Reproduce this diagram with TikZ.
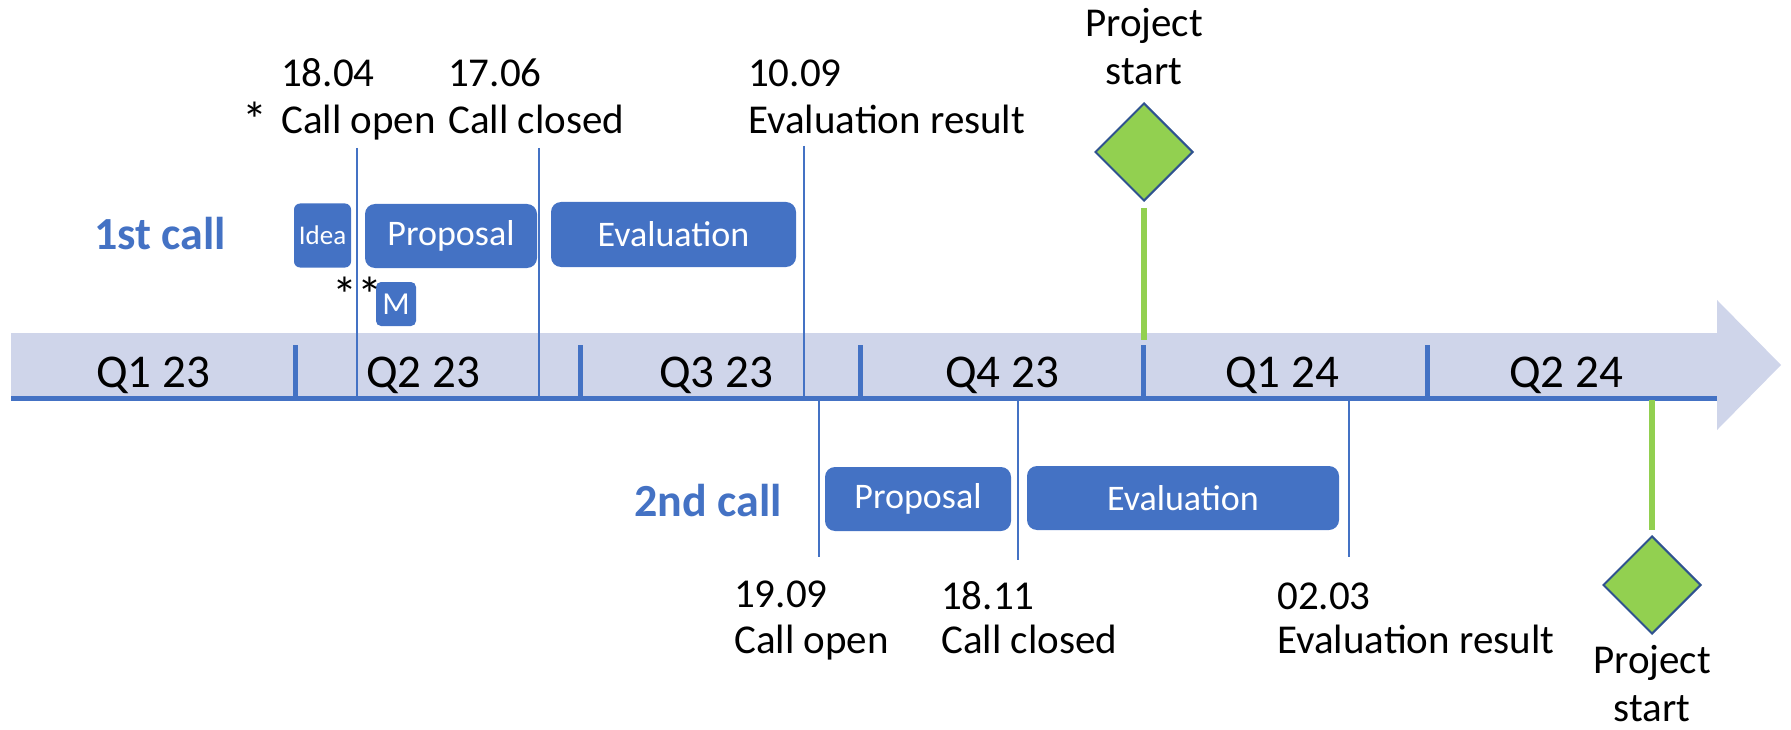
\documentclass[tikz,border=0pt]{standalone}
\usepackage{fontspec}
\setmainfont{Carlito}
\usetikzlibrary{shapes.geometric}
\definecolor{ob}{HTML}{4472C4}
\definecolor{bandc}{HTML}{CFD5EA}
\definecolor{gr}{HTML}{92D050}
\definecolor{dk}{HTML}{2F528F}
\begin{document}
\begin{tikzpicture}[x=1pt,y=-1pt,
  lbl/.style={anchor=base west, inner sep=0pt, font=\fontsize{41}{49}\selectfont},
  qlbl/.style={anchor=base, inner sep=0pt, font=\fontsize{47}{56}\selectfont},
  calllbl/.style={anchor=base west, inner sep=0pt, text=ob, font=\fontsize{46}{55}\selectfont\bfseries},
  phase/.style={fill=ob, rounded corners=10pt, text=white, inner sep=0pt, font=\fontsize{36}{43}\selectfont},
  mile/.style={shape=diamond, draw=dk, line width=2pt, fill=gr, inner sep=0pt, minimum width=98pt, minimum height=98pt},
  thin/.style={draw=ob, line width=1.2pt},
  tick/.style={draw=ob, line width=5pt},
  gline/.style={draw=gr, line width=6pt},
  star/.style={anchor=base west, inner sep=0pt, font=\fontsize{50}{60}\selectfont},
  startlbl/.style={anchor=base, align=center, inner sep=0pt, font=\fontsize{41}{48}\selectfont}
]
\useasboundingbox (0,0) rectangle (1791,730);

% band arrow
\fill[bandc] (11,333) -- (1717,333) -- (1717,300) -- (1781,365) -- (1717,430) -- (1717,396) -- (11,396) -- cycle;
\draw[tick] (11,398) -- (1717,398);

% quarter ticks
\foreach \x/\n in {295/t1,580/t2,860/t3,1143/t4,1427/t5}{
  \coordinate (\n a) at (\x,345);
  \coordinate (\n b) at (\x,398);
  \draw[tick] (\n a) -- (\n b);
}

% quarter labels
\node[qlbl] (q1) at (153,387) {Q1 23};
\node[qlbl] (q2) at (423,387) {Q2 23};
\node[qlbl] (q3) at (716,387) {Q3 23};
\node[qlbl] (q4) at (1002,387) {Q4 23};
\node[qlbl] (q5) at (1282,387) {Q1 24};
\node[qlbl] (q6) at (1566,387) {Q2 24};

% 1st call
\node[calllbl] (c1) at (94,249) {1st call};
\node[phase, rounded corners=6pt, minimum width=57pt, minimum height=64pt, font=\fontsize{27}{32}\selectfont] (idea) at (322.5,235.5) {Idea};
\node[phase, minimum width=172pt, minimum height=64pt] (prop1) at (451,236) {Proposal};
\node[phase, minimum width=245pt, minimum height=65pt] (eval1) at (673.5,234.5) {Evaluation};
\node[phase, rounded corners=5pt, minimum width=40pt, minimum height=44pt, font=\fontsize{32}{38}\selectfont] (m) at (396,304) {M};
\node[star] (ast2) at (332,312) {**};
\node[star] (ast1) at (242,138) {*};

\node[lbl] (d1) at (281,87) {18.04};
\node[lbl] (e1) at (281,134) {Call open};
\node[lbl] (d2) at (448,87) {17.06};
\node[lbl] (e2) at (448,134) {Call closed};
\node[lbl] (d3) at (748,87) {10.09};
\node[lbl] (e3) at (748,134) {Evaluation result};

\coordinate (l1a) at (357,148); \coordinate (l1b) at (357,396);
\coordinate (l2a) at (539,148); \coordinate (l2b) at (539,396);
\coordinate (l3a) at (804,146); \coordinate (l3b) at (804,396);
\draw[thin] (l1a) -- (l1b);
\draw[thin] (l2a) -- (l2b);
\draw[thin] (l3a) -- (l3b);

\node[startlbl] (ps1) at (1144,85) {Project\\start};
\node[mile] (ms1) at (1144,152) {};
\coordinate (g1a) at (1144,208); \coordinate (g1b) at (1144,340);
\draw[gline] (g1a) -- (g1b);

% 2nd call
\node[calllbl] (c2) at (634,516) {2nd call};
\node[phase, minimum width=186pt, minimum height=64pt] (prop2) at (918,499) {Proposal};
\node[phase, minimum width=312pt, minimum height=64pt] (eval2) at (1183,498) {Evaluation};

\coordinate (k1a) at (819,400); \coordinate (k1b) at (819,557);
\coordinate (k2a) at (1018,400); \coordinate (k2b) at (1018,560);
\coordinate (k3a) at (1349,400); \coordinate (k3b) at (1349,557);
\draw[thin] (k1a) -- (k1b);
\draw[thin] (k2a) -- (k2b);
\draw[thin] (k3a) -- (k3b);

\node[lbl] (f1) at (734,607) {19.09};
\node[lbl] (h1) at (734,653) {Call open};
\node[lbl] (f2) at (941,609) {18.11};
\node[lbl] (h2) at (941,653) {Call closed};
\node[lbl] (f3) at (1277,609) {02.03};
\node[lbl] (h3) at (1277,653) {Evaluation result};

\coordinate (g2a) at (1652,400); \coordinate (g2b) at (1652,530);
\draw[gline] (g2a) -- (g2b);
\node[mile] (ms2) at (1652,585) {};
\node[startlbl] (ps2) at (1652,721) {Project\\start};
\end{tikzpicture}
\end{document}
